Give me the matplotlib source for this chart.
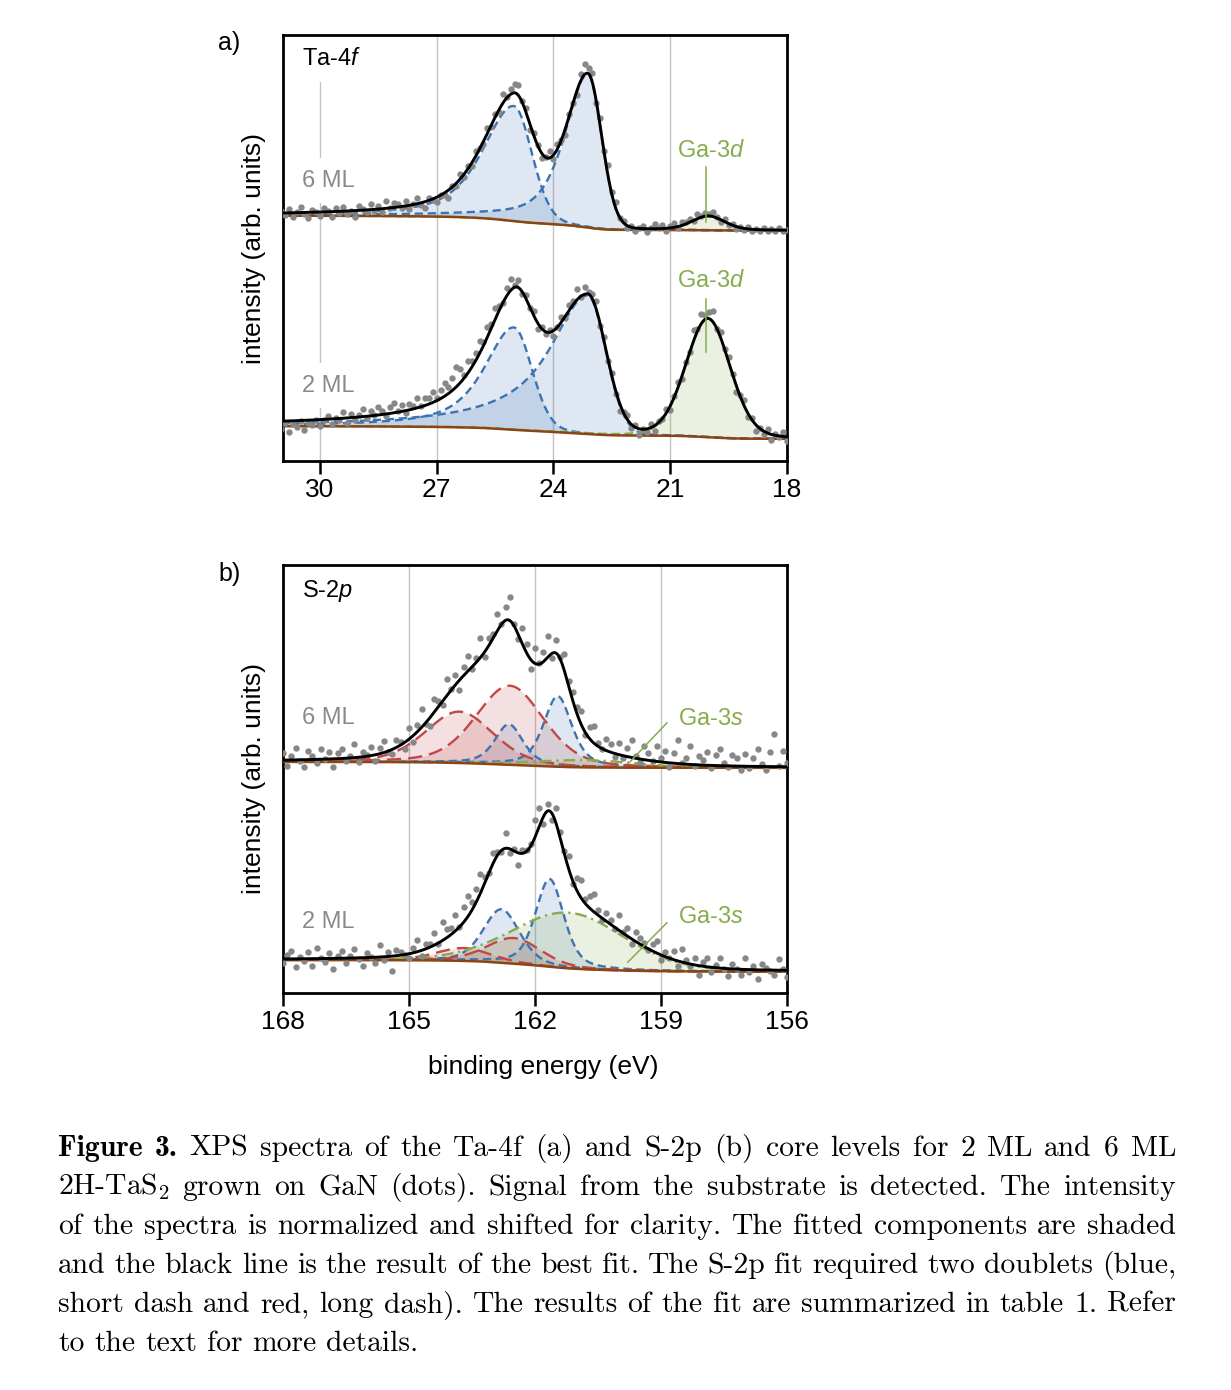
import numpy as np
import matplotlib
matplotlib.use('Agg')
import matplotlib.pyplot as plt
from matplotlib.transforms import IdentityTransform

plt.rcParams['font.family'] = ['Liberation Sans', 'DejaVu Sans']
plt.rcParams['mathtext.fontset'] = 'custom'
plt.rcParams['mathtext.rm'] = 'Liberation Sans'
plt.rcParams['mathtext.it'] = 'Liberation Sans:italic'
plt.rcParams['mathtext.bf'] = 'Liberation Sans:bold'

# --- measured spectra (dots), normalized + shifted intensity ---
ta_energy = np.round(np.arange(31.0, 17.95, -0.1), 2)
ta6_counts = [
    58.7, 57.7, 59.2, 57.2, 58.4, 59.6, 57.9, 57.0, 59.0, 58.4, 57.6, 59.3, 58.7, 57.3, 59.3, 58.2, 59.7, 57.9,
    58.8, 57.2, 59.8, 59.1, 58.4, 60.4, 58.8, 59.9, 58.4, 61.0, 59.5, 60.5, 60.3, 59.4, 61.0, 59.2, 60.4, 61.7,
    60.2, 59.5, 61.7, 61.2, 60.7, 62.5, 62.5, 61.8, 64.5, 64.5, 67.3, 66.7, 69.2, 69.2, 72.7, 73.5, 74.5, 78.2,
    78.5, 81.5, 81.9, 86.1, 85.5, 87.4, 88.5, 88.2, 84.6, 82.9, 77.7, 77.0, 74.1, 71.1, 71.4, 72.8, 71.0, 74.3,
    75.3, 76.5, 81.5, 84.1, 85.8, 90.8, 93.3, 92.2, 91.1, 84.1, 80.4, 72.7, 69.5, 63.2, 60.9, 57.0, 56.4, 54.6,
    55.2, 53.9, 54.8, 55.2, 53.8, 54.8, 55.6, 54.6, 55.3, 54.1, 55.1, 55.9, 54.8, 56.0, 56.1, 56.9, 56.3, 58.0,
    57.5, 58.3, 58.0, 58.5, 57.3, 56.2, 56.8, 55.4, 55.7, 54.5, 55.0, 54.3, 54.9, 53.9, 54.5, 54.1, 54.6, 53.9,
    54.5, 53.9, 54.6, 54.1, 54.3]
ta2_counts = [
    7.5, 8.9, 6.9, 8.6, 7.9, 9.5, 7.3, 8.9, 8.4, 9.6, 8.2, 9.6, 10.5, 8.7, 10.0, 9.7, 11.5, 9.0, 11.0, 9.7,
    10.9, 12.2, 10.1, 11.8, 10.8, 12.7, 11.7, 10.5, 12.7, 13.7, 11.7, 13.2, 11.3, 13.4, 12.9, 14.7, 12.8, 14.9,
    14.7, 16.2, 14.8, 16.7, 18.3, 17.3, 19.6, 22.1, 21.6, 20.2, 23.4, 23.5, 25.4, 28.2, 28.0, 31.5, 32.2, 35.8,
    36.5, 37.2, 40.7, 42.8, 41.4, 42.5, 39.2, 39.0, 35.9, 35.2, 31.0, 31.4, 29.9, 30.7, 29.3, 31.5, 33.8, 33.6,
    36.7, 37.5, 40.4, 38.6, 40.9, 39.7, 39.2, 37.6, 31.7, 29.0, 23.5, 20.7, 15.8, 11.8, 11.5, 10.9, 7.7, 8.4,
    6.0, 7.6, 6.9, 8.8, 7.1, 9.3, 9.8, 12.2, 12.0, 15.3, 18.5, 19.2, 23.3, 25.7, 30.7, 30.9, 34.6, 34.3, 35.0,
    35.1, 31.1, 30.3, 26.3, 24.4, 20.4, 16.3, 15.6, 14.3, 10.3, 10.2, 7.0, 7.8, 6.4, 7.6, 5.0, 6.3, 5.7, 6.7,
    4.7]

s_energy = np.round(np.arange(168.0, 155.95, -0.1), 2)
s6_counts = [
    56.1, 53.1, 55.3, 57.3, 54.1, 52.9, 56.6, 55.3, 53.8, 57.1, 54.6, 56.2, 52.8, 56.0, 57.1, 54.3, 55.4, 58.1,
    54.0, 56.2, 55.5, 57.4, 54.2, 57.3, 58.9, 56.3, 55.9, 59.0, 58.7, 56.9, 62.0, 58.6, 62.7, 66.3, 62.9, 62.4,
    68.8, 68.2, 67.4, 73.3, 71.0, 74.4, 70.7, 76.2, 78.7, 75.7, 78.3, 83.0, 78.5, 82.9, 83.9, 88.6, 86.2, 90.2,
    92.6, 86.1, 82.7, 85.2, 81.6, 75.6, 80.5, 77.0, 79.7, 83.3, 78.3, 82.4, 78.4, 79.1, 73.0, 70.4, 66.9, 66.0,
    60.3, 62.1, 62.4, 58.4, 56.9, 59.4, 58.1, 55.1, 58.5, 55.0, 57.2, 59.1, 55.4, 53.9, 57.8, 56.1, 54.3, 57.8,
    54.9, 56.5, 52.7, 56.0, 59.1, 53.8, 55.0, 57.8, 53.0, 55.4, 54.5, 56.2, 52.5, 55.6, 57.0, 53.8, 52.9, 55.7,
    54.8, 52.1, 55.8, 52.5, 54.9, 56.9, 53.4, 52.1, 56.2, 60.4, 53.0, 56.6, 53.8]
s2_counts = [
    6.9, 8.8, 9.9, 6.0, 8.3, 7.4, 9.5, 6.3, 10.5, 8.2, 7.2, 9.3, 5.6, 8.7, 9.9, 6.9, 8.6, 10.3, 7.9, 6.4,
    9.3, 8.4, 7.0, 11.1, 7.7, 9.5, 5.2, 10.1, 9.5, 8.9, 8.2, 10.4, 12.3, 8.7, 11.4, 11.4, 14.0, 11.4, 16.6, 15.0,
    15.2, 18.2, 15.5, 20.2, 22.7, 21.3, 24.4, 27.7, 27.1, 28.0, 32.6, 33.0, 32.9, 37.4, 32.8, 33.6, 30.0, 33.3,
    33.4, 34.8, 40.4, 43.2, 39.5, 44.1, 40.4, 43.2, 37.6, 33.1, 31.9, 25.4, 26.8, 26.3, 22.0, 22.7, 23.1, 19.3,
    17.1, 18.8, 17.1, 15.0, 18.3, 14.2, 15.2, 11.5, 14.3, 12.9, 11.6, 10.1, 11.5, 12.1, 7.7, 9.5, 8.2, 9.9,
    6.4, 10.2, 7.6, 6.3, 8.2, 4.3, 7.2, 8.1, 5.0, 6.5, 8.1, 5.5, 4.0, 6.8, 5.7, 4.3, 8.2, 4.8, 6.4, 3.3, 6.8,
    5.9, 5.2, 4.3, 7.9, 5.6, 3.7]

# --- fit parameters (asymmetric pseudo-Voigt) ---
# position (eV), height, hwhm low-BE side, hwhm high-BE side, lorentz fraction low / high side
# Ta-4f panel: [4f5/2, 4f7/2, Ga-3d]
ta6_pos = [25.02, 23.12, 20.02]
ta6_height = [27.0, 36.0, 3.3]
ta6_w_lo = [0.55, 0.42, 0.5]
ta6_w_hi = [0.95, 0.7, 0.5]
ta6_eta_lo = [0.1, 0.05, 0.3]
ta6_eta_hi = [0.65, 0.7, 0.3]
ta6_bg = [54.1, 57.6]

ta2_pos = [25.02, 23.12, 20.03]
ta2_height = [24.0, 32.5, 27.8]
ta2_w_lo = [0.55, 0.55, 0.67]
ta2_w_hi = [0.9, 1.2, 0.67]
ta2_eta_lo = [0.1, 0.05, 0.15]
ta2_eta_hi = [0.75, 1.0, 0.15]
ta2_bg = [5.2, 8.2]

# S-2p panel: [blue 2p3/2, blue 2p1/2, red 2p3/2, red 2p1/2, Ga-3s]
s6_pos = [161.46, 162.62, 162.6, 163.8, 160.8]
s6_height = [16.5, 9.5, 18.5, 12.0, 1.7]
s6_w = [0.4, 0.4, 0.95, 0.95, 1.4]
s6_eta = [0.55, 0.55, 0.3, 0.3, 0.2]
s6_bg = [52.6, 54.0]

s2_pos = [161.65, 162.8, 162.5, 163.7, 161.2]
s2_height = [20.5, 12.5, 6.0, 3.0, 13.0]
s2_w = [0.4, 0.51, 0.76, 0.76, 1.55]
s2_eta = [0.45, 0.36, 0.32, 0.32, 0.17]
s2_bg = [5.0, 7.7]

ta_ticks = [30, 27, 24, 21, 18]
s_ticks = [168, 165, 162, 159, 156]

# colours / styles
BLUE = '#3e73b2'
RED = '#c04848'
GREEN = '#86ac4c'
BROWN = '#8b4513'
DOTS = '#878787'
ta_col = [BLUE, BLUE, GREEN]
ta_ls = [(0, (3.5, 2)), (0, (3.5, 2)), (0, (3.5, 2))]
s_col = [BLUE, BLUE, RED, RED, GREEN]
s_ls = [(0, (3.5, 2)), (0, (3.5, 2)), (0, (6, 3)), (0, (6, 3)), (0, (5, 2, 1, 2))]


def peak(e, pos, h, w_lo, w_hi, eta_lo, eta_hi):
    # pseudo-Voigt with different width / shape on each side of the maximum
    x = e - pos
    w = np.where(x > 0, w_hi, w_lo)
    eta = np.where(x > 0, eta_hi, eta_lo)
    u = (x / w) ** 2
    return h * (eta / (1 + u) + (1 - eta) * np.exp(-np.log(2) * u))


def draw_fit(ax, ef, params, bg_ends, cols, styles):
    comps = [peak(ef, *p) for p in zip(*params)]
    total = np.sum(comps, axis=0)
    cum = np.cumsum(total)
    cum = cum / cum[-1]
    bg = bg_ends[0] + (bg_ends[1] - bg_ends[0]) * cum   # shirley background
    for c, col, ls in zip(comps, cols, styles):
        ax.fill_between(ef, bg, bg + c, color=col, alpha=0.17, lw=0, zorder=1)
        ax.plot(ef, bg + c, color=col, ls=ls, lw=1.7, zorder=3)
    ax.plot(ef, bg, color=BROWN, lw=1.8, zorder=4)
    ax.plot(ef, bg + total, color='black', lw=2.1, zorder=5)


W, H = 1231, 1390
fig = plt.figure(figsize=(W / 100, H / 100), dpi=100)
axA = fig.add_axes([283 / W, 1 - 461 / H, 504 / W, 426 / H])
axB = fig.add_axes([283 / W, 1 - 993 / H, 504 / W, 428 / H])

for ax, e, counts in [(axA, ta_energy, ta6_counts), (axA, ta_energy, ta2_counts),
                      (axB, s_energy, s6_counts), (axB, s_energy, s2_counts)]:
    ax.scatter(e, counts, s=21, color=DOTS, lw=0, zorder=4.5)

ef_ta = np.linspace(17.5, 31.5, 1401)
ef_s = np.linspace(155.5, 168.5, 1301)
draw_fit(axA, ef_ta, [ta6_pos, ta6_height, ta6_w_lo, ta6_w_hi, ta6_eta_lo, ta6_eta_hi], ta6_bg, ta_col, ta_ls)
draw_fit(axA, ef_ta, [ta2_pos, ta2_height, ta2_w_lo, ta2_w_hi, ta2_eta_lo, ta2_eta_hi], ta2_bg, ta_col, ta_ls)
draw_fit(axB, ef_s, [s6_pos, s6_height, s6_w, s6_w, s6_eta, s6_eta], s6_bg, s_col, s_ls)
draw_fit(axB, ef_s, [s2_pos, s2_height, s2_w, s2_w, s2_eta, s2_eta], s2_bg, s_col, s_ls)

for ax, ticks, lim in [(axA, ta_ticks, (30.95, 18)), (axB, s_ticks, (168, 156))]:
    ax.set_xlim(*lim)
    ax.set_ylim(0, 100)
    ax.set_xticks(ticks)
    ax.set_yticks([])
    ax.tick_params(axis='x', direction='out', length=9, width=1.8, labelsize=19, pad=3)
    for sp in ax.spines.values():
        sp.set_linewidth(2.0)
    ax.grid(axis='x', color='#c4c4c4', lw=1.0)
    ax.set_axisbelow(True)
    ax.set_ylabel('intensity (arb. units)', fontsize=19)
    ax.yaxis.set_label_coords(-0.034, 0.5)

axB.set_xlabel('binding energy (eV)', fontsize=19)
axB.xaxis.set_label_coords(0.516, -0.145)

box = dict(facecolor='white', edgecolor='none', boxstyle='square,pad=0.5')
axA.text(0.0377, 0.9296, 'Ta-4$f$', transform=axA.transAxes, fontsize=17, bbox=box, zorder=2)
axA.text(0.0377, 0.644, '6 ML', transform=axA.transAxes, fontsize=17, color='#8a8a8a', bbox=box, zorder=2)
axA.text(0.0377, 0.163, '2 ML', transform=axA.transAxes, fontsize=17, color='#8a8a8a', bbox=box, zorder=2)
axA.text(0.781, 0.714, 'Ga-3$d$', transform=axA.transAxes, fontsize=17, color=GREEN)
axA.text(0.781, 0.409, 'Ga-3$d$', transform=axA.transAxes, fontsize=17, color=GREEN)
axA.plot([20.07, 20.07], [69.0, 56.1], color=GREEN, lw=1.1, zorder=6)
axA.plot([20.07, 20.07], [38.0, 25.6], color=GREEN, lw=1.1, zorder=6)

axB.text(0.0377, 0.925, 'S-2$p$', transform=axB.transAxes, fontsize=17, bbox=box, zorder=2)
axB.text(0.0377, 0.6285, '6 ML', transform=axB.transAxes, fontsize=17, color='#8a8a8a', bbox=box, zorder=2)
axB.text(0.0377, 0.1526, '2 ML', transform=axB.transAxes, fontsize=17, color='#8a8a8a', bbox=box, zorder=2)
axB.text(0.784, 0.626, 'Ga-3$s$', transform=axB.transAxes, fontsize=17, color=GREEN)
axB.text(0.784, 0.163, 'Ga-3$s$', transform=axB.transAxes, fontsize=17, color=GREEN)
axB.plot([158.86, 159.74], [63.1, 54.0], color=GREEN, lw=1.1, zorder=6)
axB.plot([158.86, 159.79], [16.4, 7.2], color=GREEN, lw=1.1, zorder=6)

fig.text(218 / W, 1 - 31 / H, 'a)', fontsize=18, va='top')
fig.text(218 / W, 1 - 562 / H, 'b)', fontsize=18, va='top')

# --- caption, justified line by line ---
caption = [
    [('Figure', 'cmb10'), ('3.', 'cmb10'), 'XPS', 'spectra', 'of', 'the', 'Ta-4f', '(a)', 'and', 'S-2p', '(b)',
     'core', 'levels', 'for', '2', 'ML', 'and', '6', 'ML'],
    ['2H-TaS$_2$', 'grown', 'on', 'GaN', '(dots).', 'Signal', 'from', 'the', 'substrate', 'is', 'detected.',
     'The', 'intensity'],
    ['of', 'the', 'spectra', 'is', 'normalized', 'and', 'shifted', 'for', 'clarity.', 'The', 'fitted',
     'components', 'are', 'shaded'],
    ['and', 'the', 'black', 'line', 'is', 'the', 'result', 'of', 'the', 'best', 'fit.', 'The', 'S-2p', 'fit',
     'required', 'two', 'doublets', '(blue,'],
    ['short', 'dash', 'and', 'red,', 'long', 'dash).', 'The', 'results', 'of', 'the', 'fit', 'are', 'summarized',
     'in', 'table', '1.', 'Refer'],
    ['to', 'the', 'text', 'for', 'more', 'details.'],
]
renderer = fig.canvas.get_renderer()
x0, x1 = 58, 1176
fs = 21.3
sp = fs * 100 / 72 * 0.333
for i, words in enumerate(caption):
    y = H - (1156 + 39 * i)
    objs = []
    for wd in words:
        fam = 'cmr10'
        if isinstance(wd, tuple):
            wd, fam = wd
        t = fig.text(0, y, wd, fontsize=fs, family=fam, math_fontfamily='cm',
                     transform=IdentityTransform(), va='baseline', ha='left')
        objs.append(t)
    widths = [t.get_window_extent(renderer).width for t in objs]
    gap = sp if i == len(caption) - 1 else (x1 - x0 - sum(widths)) / (len(objs) - 1)
    x = x0
    for t, wdt in zip(objs, widths):
        t.set_x(x)
        x += wdt + gap

fig.savefig('out.png', dpi=100)
